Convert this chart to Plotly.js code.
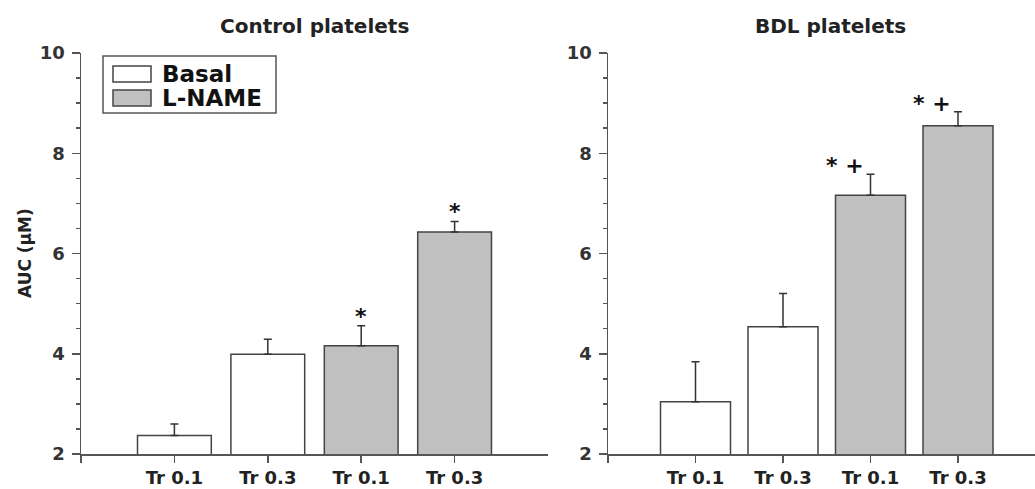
<!DOCTYPE html>
<html>
<head>
<meta charset="utf-8">
<script src="https://cdn.plot.ly/plotly-3.0.1.min.js"></script>
<style>
  html, body { margin: 0; padding: 0; background: #fff; }
  #chart { width: 1035px; height: 489px; }
</style>
</head>
<body>
<div id="chart"></div>
<script>
// ---- data ----
const panelTitles = ['Control platelets', 'BDL platelets'];
const seriesNames = ['Basal', 'L-NAME'];
const tickLabels = ['Tr 0.1', 'Tr 0.3', 'Tr 0.1', 'Tr 0.3'];
const yTitle = 'AUC (\u00b5M)';

const controlBasal = [2.37, 3.99];
const controlBasalErr = [0.23, 0.30];
const controlLname = [4.16, 6.43];
const controlLnameErr = [0.40, 0.21];

const bdlBasal = [3.04, 4.54];
const bdlBasalErr = [0.80, 0.66];
const bdlLname = [7.16, 8.55];
const bdlLnameErr = [0.42, 0.28];

const controlMarks = ['', '', '*', '*'];
const bdlMarks = ['', '', '* +', '* +'];

// ---- styling ----
const W = 1035, H = 489;
const px = x => x / W;
const py = y => 1 - y / H;
const FONT = 'DejaVu Sans';
const TXT = '#222';
const AX = '#555';
const fills = ['#ffffff', '#c0c0c0'];
const outline = '#444';

const pos = tickLabels.map((_, i) => i + 1);

function barTrace(vals, errs, name, idx, xa, ya, offset) {
  return {
    type: 'bar',
    x: vals.map((_, i) => pos[i + offset]),
    y: vals,
    name: name,
    xaxis: xa, yaxis: ya,
    width: xa === 'x' ? 0.79 : 0.8,
    marker: { color: fills[idx], line: { color: outline, width: 1.5 } },
    error_y: { type: 'data', array: errs, symmetric: false, arrayminus: errs.map(() => 0),
               color: '#333', thickness: 1.5, width: 4 },
    showlegend: false,
    hoverinfo: 'skip'
  };
}

const data = [
  barTrace(controlBasal, controlBasalErr, seriesNames[0], 0, 'x', 'y', 0),
  barTrace(controlLname, controlLnameErr, seriesNames[1], 1, 'x', 'y', 2),
  barTrace(bdlBasal, bdlBasalErr, seriesNames[0], 0, 'x2', 'y2', 0),
  barTrace(bdlLname, bdlLnameErr, seriesNames[1], 1, 'x2', 'y2', 2)
];

function yAxis(anchor) {
  return {
    anchor: anchor,
    domain: [py(454), py(53)],
    range: [2, 10],
    tickvals: [2, 4, 6, 8, 10],
    ticks: 'outside', ticklen: 8, tickwidth: 1.5, tickcolor: AX,
    minor: { dtick: 0.5, ticks: 'outside', ticklen: 4, tickwidth: 1.5, tickcolor: AX },
    showline: true, linecolor: AX, linewidth: 1.5,
    showgrid: false, zeroline: false,
    ticklabelstandoff: 3,
    tickfont: { family: FONT, size: 18, color: '#333', weight: 'bold' },
    fixedrange: true
  };
}
function xAxis(domain, range, anchor) {
  return {
    anchor: anchor,
    domain: domain,
    range: range,
    tickvals: [0].concat(pos),
    ticktext: [''].concat(tickLabels),
    ticks: 'outside', ticklen: 7, tickwidth: 1.5, tickcolor: AX,
    showline: true, linecolor: AX, linewidth: 1.5,
    showgrid: false, zeroline: false,
    tickfont: { family: FONT, size: 18, color: TXT, weight: 'bold' },
    fixedrange: true
  };
}

const annotations = [];
// panel titles
annotations.push({ xref: 'paper', yref: 'paper', x: px(314), y: py(26), text: panelTitles[0],
  showarrow: false, xanchor: 'center', yanchor: 'middle',
  font: { family: FONT, size: 20, color: TXT, weight: 'bold' } });
annotations.push({ xref: 'paper', yref: 'paper', x: px(830), y: py(26), text: panelTitles[1],
  showarrow: false, xanchor: 'center', yanchor: 'middle',
  font: { family: FONT, size: 20, color: TXT, weight: 'bold' } });
// y title
annotations.push({ xref: 'paper', yref: 'paper', x: px(25), y: py(253), text: yTitle,
  showarrow: false, textangle: -90, xanchor: 'center', yanchor: 'middle',
  font: { family: FONT, size: 17, color: TXT, weight: 'bold' } });

// significance marks
const ctrlTops = controlBasal.map((v, i) => v + controlBasalErr[i])
  .concat(controlLname.map((v, i) => v + controlLnameErr[i]));
const bdlTops = bdlBasal.map((v, i) => v + bdlBasalErr[i])
  .concat(bdlLname.map((v, i) => v + bdlLnameErr[i]));
controlMarks.forEach((m, i) => {
  if (!m) return;
  annotations.push({ xref: 'x', yref: 'y', x: pos[i], y: ctrlTops[i], text: m, showarrow: false,
    xanchor: 'center', yanchor: 'bottom', yshift: -5,
    font: { family: FONT, size: 22, color: '#111', weight: 'bold' } });
});
bdlMarks.forEach((m, i) => {
  if (!m) return;
  annotations.push({ xref: 'x2', yref: 'y2', x: pos[i], y: bdlTops[i], text: m, showarrow: false,
    xanchor: 'center', yanchor: 'bottom', xshift: -26, yshift: -6,
    font: { family: FONT, size: 22, color: '#111', weight: 'bold' } });
});

// legend (drawn box)
const shapes = [
  { type: 'rect', xref: 'paper', yref: 'paper', x0: px(103), x1: px(276), y0: py(56), y1: py(113),
    line: { color: '#555', width: 1.5 }, fillcolor: 'rgba(0,0,0,0)' }
];
const legendRows = [74, 98];
seriesNames.forEach((n, i) => {
  shapes.push({ type: 'rect', xref: 'paper', yref: 'paper', x0: px(113), x1: px(151),
    y0: py(legendRows[i] - 8), y1: py(legendRows[i] + 8),
    line: { color: outline, width: 1.5 }, fillcolor: fills[i] });
  annotations.push({ xref: 'paper', yref: 'paper', x: px(160), y: py(legendRows[i]), text: n,
    showarrow: false, xanchor: 'left', yanchor: 'middle',
    font: { family: FONT, size: 23, color: '#111', weight: 'bold' } });
});

const layout = {
  width: W, height: H,
  margin: { l: 0, r: 0, t: 0, b: 0 },
  paper_bgcolor: '#fff', plot_bgcolor: '#fff',
  showlegend: false,
  barmode: 'overlay',
  xaxis: xAxis([px(81), px(548)], [0, 5], 'y'),
  yaxis: yAxis('x'),
  xaxis2: xAxis([px(608), 1], [0, 4.88], 'y2'),
  yaxis2: yAxis('x2'),
  annotations: annotations,
  shapes: shapes
};

Plotly.newPlot('chart', data, layout, { staticPlot: true });
</script>
</body>
</html>
